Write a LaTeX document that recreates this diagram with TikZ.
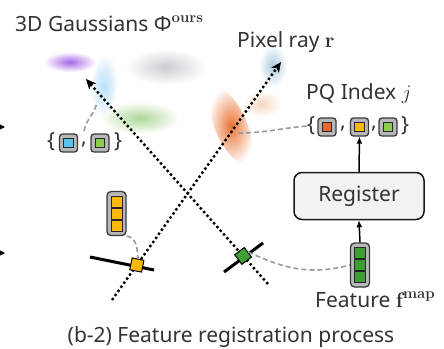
\documentclass[tikz,border=0pt]{standalone}
\usepackage[no-math]{fontspec}
\setmainfont{Noto Sans}
\usetikzlibrary{arrows.meta,calc,fadings}

% bold serif symbols set in Latin Modern
\newcommand{\bsym}[1]{{\fontfamily{lmr}\fontseries{bx}\selectfont #1}}
\newcommand{\supb}[1]{\raisebox{0.42em}{\fontsize{15}{15}\fontfamily{lmr}\fontseries{bx}\selectfont #1}}

\definecolor{txt}{HTML}{333333}
\definecolor{frameedge}{HTML}{3A3A3A}
\definecolor{framering}{HTML}{B8B8B8}
\definecolor{regfill}{HTML}{F2F2F2}
\definecolor{linkgray}{HTML}{9A9A9A}
\definecolor{cOrange}{HTML}{E8692C}
\definecolor{cYellow}{HTML}{F7BA00}
\definecolor{cGreen}{HTML}{8CCB4E}
\definecolor{cGreenDark}{HTML}{3E9F33}
\definecolor{cBlue}{HTML}{5BC2EC}
\definecolor{gPurple}{HTML}{A865E8}
\definecolor{gSky}{HTML}{B8E0F8}
\definecolor{gGray}{HTML}{C9CDD3}
\definecolor{gGreen}{HTML}{AED898}
\definecolor{gOrange}{HTML}{EC7434}
\definecolor{gPeach}{HTML}{F9D6C2}
\definecolor{gSteel}{HTML}{A9CBDE}

\tikzfading[name=softblob, inner color=transparent!0, outer color=transparent!100]

\tikzset{
  x=1pt, y=1pt,
  lbl/.style={font=\fontsize{21}{25}\selectfont, text=txt, inner sep=0},
  blob/.style={fill=#1, path fading=softblob},
  ray/.style={line width=2.4pt, dash pattern=on 2.4pt off 2.6pt,
    -{Stealth[length=10pt,width=9pt,inset=2.5pt]}},
  surface/.style={line width=3pt, black},
  hitsq/.style={draw=black, line width=1pt, minimum size=12pt, inner sep=0},
  link/.style={linkgray, line width=1.6pt, dash pattern=on 5pt off 3pt},
  flow/.style={line width=1.5pt, black, -{Latex[length=7pt,width=6pt]}},
  stub/.style={line width=1.5pt, black, -{Stealth[length=6pt,width=6pt]}},
  regbox/.style={draw=black!90, line width=1.5pt, fill=regfill, rounded corners=8pt,
    minimum width=130pt, minimum height=47pt, lbl},
  chipframe/.style={draw=frameedge, fill=framering, line width=1.3pt,
    rounded corners=3pt, minimum size=18pt, inner sep=0},
  chipcore/.style={draw=black!85, line width=1pt, minimum size=9.5pt, inner sep=0},
  vecframe/.style={draw=frameedge, fill=framering, line width=1.3pt,
    rounded corners=4pt, minimum width=19pt, minimum height=44pt, inner sep=0},
  veccell/.style={draw=black!85, line width=0.9pt, minimum width=11pt,
    minimum height=11pt, inner sep=0},
  pics/chip/.style={code={
    \node[chipframe] (-frame) {};
    \node[chipcore, fill=#1] (-core) {};
  }},
  pics/featvec/.style={code={
    \node[vecframe] (-frame) {};
    \node[veccell, fill=#1] (-c1) at (0,12) {};
    \node[veccell, fill=#1] (-c2) at (0,0) {};
    \node[veccell, fill=#1] (-c3) at (0,-12) {};
  }},
}

\begin{document}
\begin{tikzpicture}
  \fill[white] (0,0) rectangle (444,-348);
  \useasboundingbox (0,0) rectangle (444,-348);

  % soft 3D Gaussians
  \fill[blob=gPurple] (70,-62) ellipse [x radius=26, y radius=10];
  \fill[blob=gSky, rotate around={-8:(104,-86)}] (104,-86) ellipse [x radius=12, y radius=32];
  \fill[blob=gGray] (166,-67) ellipse [x radius=40, y radius=18];
  \fill[blob=gGreen] (140,-118) ellipse [x radius=39, y radius=16];
  \fill[blob=gPeach] (262,-104) ellipse [x radius=19, y radius=13];
  \fill[blob=gOrange, rotate around={23:(231,-126)}] (231,-126) ellipse [x radius=16, y radius=40];
  \fill[blob=gSteel] (273,-66) ellipse [x radius=14, y radius=21];
  \coordinate (gblue) at (97,-102);
  \coordinate (gorange) at (238,-133);

  % arrows entering from the neighbouring panel
  \coordinate (ls1) at (-10,-127); \coordinate (le1) at (5,-127);
  \coordinate (ls2) at (-10,-253); \coordinate (le2) at (5,-253);
  \draw[stub] (ls1) -- (le1);
  \draw[stub] (ls2) -- (le2);

  % labels
  \node[lbl, anchor=base west] (title) at (15,-31) {3D Gaussians Φ\supb{ours}};
  \node[lbl, anchor=base west] (raylbl) at (237,-47) {Pixel ray \bsym{r}};
  \node[lbl, anchor=base west] (pqlbl) at (306,-99) {PQ Index $j$};
  \node[lbl, anchor=base west] (featlbl) at (315,-307) {Feature \bsym{f}\supb{map}};
  \node[lbl, anchor=base] (caption) at (231,-342) {(b-2) Feature registration process};

  % pixel rays
  \coordinate (r1s) at (112,-300); \coordinate (r1e) at (281,-62);
  \coordinate (r2s) at (268,-284); \coordinate (r2e) at (86,-79);
  \draw[ray] (r1s) -- (r1e);
  \draw[ray] (r2s) -- (r2e);

  % surfaces hit by the rays
  \coordinate (ya) at (90,-257); \coordinate (yb) at (154,-270);
  \coordinate (ga) at (224,-272); \coordinate (gb) at (263,-243);
  \draw[surface] (ya) -- (yb);
  \draw[surface] (ga) -- (gb);
  \node[hitsq, fill=cYellow, rotate=-11.5] (ysq) at ($(r1s)!0.147!(r1e)$) {};
  \node[hitsq, fill=cGreenDark, rotate=36.6] (gsq) at ($(r2s)!0.137!(r2e)$) {};

  % feature vectors
  \pic (yv) at (116.5,-213.5) {featvec=cYellow};
  \pic (fv) at (360,-265) {featvec=cGreenDark};

  % register block
  \node[regbox] (reg) at (359,-196) {Register};

  % PQ index set
  \node[lbl] (pqL) at (311,-126) {\{};
  \pic (pq1) at (327,-127) {chip=cOrange};
  \node[lbl] (pqc1) at (343,-129) {,};
  \pic (pq2) at (359.5,-127) {chip=cYellow};
  \node[lbl] (pqc2) at (374,-129) {,};
  \pic (pq3) at (388,-127) {chip=cGreen};
  \node[lbl] (pqR) at (405,-126) {\}};

  % set of Gaussian indices on the left
  \node[lbl] (bgL) at (51,-142) {\{};
  \pic (bg1) at (68.5,-143) {chip=cBlue};
  \node[lbl] (bgc) at (84,-145) {,};
  \pic (bg2) at (100,-143) {chip=cGreen};
  \node[lbl] (bgR) at (118,-142) {\}};

  % flow through the register
  \draw[flow] (fv-frame.north) -- (reg.south);
  \draw[flow] (reg.north) -- (pq2-frame.south);

  % dashed associations
  \draw[link] (yv-frame.south east) to[out=-5,in=95] (ysq.north);
  \draw[link] (gsq.east) to[out=-25,in=195] (fv-frame.west);
  \draw[link] (gorange) to[out=0,in=185] (pqL.west);
  \draw[link] (84,-131) to[out=80,in=-100] (gblue);
\end{tikzpicture}
\end{document}
